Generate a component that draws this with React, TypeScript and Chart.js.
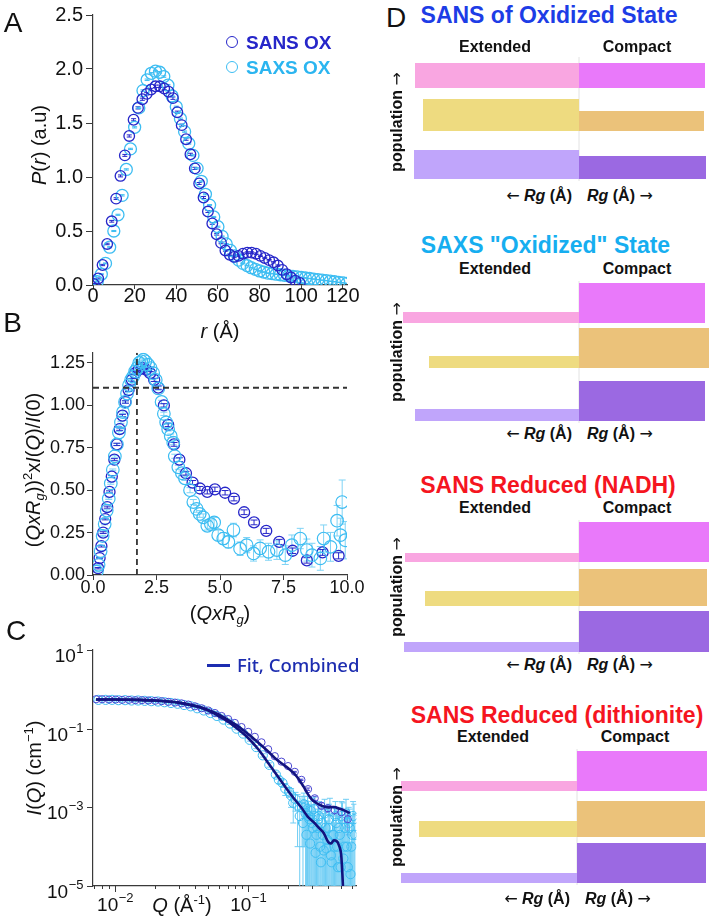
import React, { useEffect, useRef } from "react";
import { Chart, registerables } from "chart.js";
Chart.register(...registerables);

const FONT = '"Liberation Sans", Arial, Helvetica, sans-serif';
const ARROW_FONT = '"DejaVu Sans", sans-serif';
const AXIS = "#3a3a3a";
const SANS_BLUE = "#2626c9";
const SAXS_BLUE = "#3dbdf2";
const C_SANS = "#4a46d2";
const FIT_NAVY = "#13137e";

// ---------------- Panel A : P(r) ----------------
const aXTicks = [0, 20, 40, 60, 80, 100, 120];
const aYTicks = [0, 0.5, 1.0, 1.5, 2.0, 2.5];
const aSansR = [0.4, 2.5, 4.6, 6.8, 9.0, 11.1, 13.2, 15.3, 17.4, 19.5, 21.6, 23.7, 25.8, 27.9, 30.0, 32.1, 34.2, 36.3, 38.4, 40.5, 42.6, 44.7, 46.8, 48.9, 51.0, 53.1, 55.2, 57.3, 59.4, 61.5, 63.6, 65.7, 67.8, 69.9, 72.0, 74.1, 76.2, 78.3, 80.4, 82.5, 84.6, 86.7, 88.8, 90.9, 93.0, 95.1, 97.2, 99.3];
const aSansP = [0.01, 0.06, 0.185, 0.38, 0.59, 0.80, 1.01, 1.20, 1.38, 1.53, 1.64, 1.72, 1.77, 1.81, 1.84, 1.84, 1.82, 1.79, 1.73, 1.60, 1.48, 1.35, 1.21, 1.08, 0.94, 0.81, 0.68, 0.57, 0.47, 0.39, 0.32, 0.28, 0.26, 0.27, 0.29, 0.30, 0.30, 0.29, 0.27, 0.25, 0.23, 0.21, 0.18, 0.14, 0.10, 0.07, 0.04, 0.02];
const aSansErr = [0.004, 0.005, 0.006, 0.007, 0.008, 0.008, 0.009, 0.009, 0.010, 0.010, 0.010, 0.010, 0.011, 0.011, 0.011, 0.011, 0.011, 0.011, 0.011, 0.010, 0.010, 0.010, 0.010, 0.010, 0.009, 0.009, 0.009, 0.008, 0.008, 0.008, 0.007, 0.007, 0.007, 0.007, 0.007, 0.007, 0.007, 0.007, 0.006, 0.006, 0.006, 0.006, 0.006, 0.005, 0.005, 0.005, 0.004, 0.004];
const aSaxsR = [0, 2, 4, 6, 8, 10, 12, 14, 16, 18, 20, 22, 24, 26, 28, 30, 32, 34, 36, 38, 40, 42, 44, 46, 48, 50, 52, 54, 56, 58, 60, 62, 64, 66, 68, 70, 72, 74, 76, 78, 80, 82, 84, 86, 88, 90, 92, 94, 96, 98, 100, 102, 104, 106, 108, 110, 112, 114, 116, 118, 120, 122];
const aSaxsP = [0.0, 0.03, 0.10, 0.20, 0.35, 0.50, 0.65, 0.83, 1.07, 1.26, 1.46, 1.64, 1.80, 1.90, 1.96, 1.98, 1.97, 1.93, 1.85, 1.75, 1.65, 1.54, 1.42, 1.31, 1.20, 1.08, 0.96, 0.84, 0.74, 0.63, 0.54, 0.45, 0.38, 0.32, 0.27, 0.23, 0.20, 0.18, 0.16, 0.145, 0.13, 0.12, 0.11, 0.105, 0.10, 0.095, 0.09, 0.085, 0.08, 0.075, 0.07, 0.065, 0.06, 0.055, 0.05, 0.045, 0.04, 0.035, 0.03, 0.025, 0.02, 0.015];
const aSaxsErr = [0.002, 0.003, 0.004, 0.004, 0.005, 0.005, 0.005, 0.006, 0.006, 0.006, 0.006, 0.007, 0.007, 0.007, 0.007, 0.007, 0.007, 0.007, 0.007, 0.007, 0.006, 0.006, 0.006, 0.006, 0.006, 0.006, 0.005, 0.005, 0.005, 0.005, 0.005, 0.004, 0.004, 0.004, 0.004, 0.004, 0.004, 0.003, 0.003, 0.003, 0.003, 0.003, 0.003, 0.003, 0.003, 0.003, 0.003, 0.003, 0.003, 0.003, 0.003, 0.003, 0.002, 0.002, 0.002, 0.002, 0.002, 0.002, 0.002, 0.002, 0.002, 0.002];

// ---------------- Panel B : dimensionless Kratky ----------------
const bXTicks = [0, 2.5, 5.0, 7.5, 10.0];
const bYTicks = [0, 0.25, 0.5, 0.75, 1.0, 1.25];
const bGuideX = 1.73;
const bGuideY = 1.104;
const bSansX = [0.20, 0.26, 0.33, 0.40, 0.48, 0.56, 0.65, 0.74, 0.84, 0.94, 1.05, 1.16, 1.28, 1.40, 1.53, 1.66, 1.80, 1.94, 2.09, 2.25, 2.41, 2.57, 2.79, 2.96, 3.19, 3.40, 3.66, 3.92, 4.21, 4.50, 4.80, 5.20, 5.55, 5.95, 6.34, 6.82, 7.33, 7.86, 8.42, 9.04, 9.67];
const bSansY = [0.04, 0.10, 0.17, 0.25, 0.33, 0.40, 0.49, 0.58, 0.68, 0.77, 0.86, 0.94, 1.02, 1.09, 1.15, 1.19, 1.21, 1.22, 1.21, 1.19, 1.15, 1.105, 1.0, 0.885, 0.77, 0.68, 0.60, 0.545, 0.51, 0.49, 0.505, 0.485, 0.45, 0.37, 0.31, 0.26, 0.195, 0.143, 0.086, 0.133, 0.113];
const bSansErr = [0.004, 0.004, 0.005, 0.005, 0.005, 0.006, 0.006, 0.006, 0.006, 0.007, 0.007, 0.007, 0.007, 0.008, 0.008, 0.008, 0.008, 0.008, 0.009, 0.009, 0.009, 0.010, 0.010, 0.010, 0.011, 0.011, 0.011, 0.012, 0.012, 0.012, 0.013, 0.013, 0.013, 0.014, 0.014, 0.015, 0.015, 0.016, 0.016, 0.017, 0.018];
const bSaxsX = [0.15, 0.22, 0.30, 0.38, 0.46, 0.54, 0.62, 0.70, 0.78, 0.86, 0.94, 1.02, 1.10, 1.18, 1.26, 1.34, 1.42, 1.50, 1.58, 1.66, 1.74, 1.82, 1.90, 1.98, 2.06, 2.17, 2.27, 2.37, 2.47, 2.57, 2.70, 2.79, 2.88, 2.96, 3.06, 3.16, 3.22, 3.36, 3.50, 3.62, 3.82, 3.95, 4.08, 4.20, 4.34, 4.50, 4.64, 4.77, 4.93, 5.13, 5.33, 5.53, 5.79, 6.05, 6.32, 6.58, 6.91, 7.24, 7.57, 7.83, 8.16, 8.42, 8.62, 8.95, 9.08, 9.35, 9.61, 9.74, 9.81, 9.93];
const bSaxsY = [0.02, 0.06, 0.14, 0.23, 0.30, 0.38, 0.45, 0.54, 0.62, 0.70, 0.77, 0.84, 0.90, 0.96, 1.02, 1.07, 1.12, 1.15, 1.17, 1.20, 1.22, 1.25, 1.26, 1.27, 1.26, 1.24, 1.22, 1.19, 1.15, 1.10, 1.02, 0.95, 0.90, 0.86, 0.82, 0.78, 0.70, 0.635, 0.60, 0.57, 0.50, 0.43, 0.39, 0.36, 0.34, 0.29, 0.30, 0.31, 0.235, 0.215, 0.195, 0.265, 0.155, 0.176, 0.127, 0.157, 0.137, 0.147, 0.117, 0.176, 0.215, 0.147, 0.117, 0.098, 0.215, 0.166, 0.32, 0.235, 0.43, 0.205];
const bSaxsErr = [0.003, 0.003, 0.004, 0.004, 0.004, 0.005, 0.005, 0.005, 0.005, 0.006, 0.006, 0.006, 0.006, 0.007, 0.007, 0.007, 0.007, 0.007, 0.008, 0.008, 0.008, 0.008, 0.008, 0.008, 0.009, 0.009, 0.009, 0.009, 0.010, 0.010, 0.010, 0.010, 0.011, 0.011, 0.011, 0.012, 0.012, 0.012, 0.013, 0.013, 0.015, 0.015, 0.02, 0.02, 0.02, 0.025, 0.025, 0.03, 0.03, 0.035, 0.035, 0.04, 0.04, 0.045, 0.045, 0.05, 0.05, 0.055, 0.055, 0.06, 0.06, 0.065, 0.07, 0.07, 0.08, 0.085, 0.09, 0.1, 0.13, 0.11];

// ---------------- Panel C : I(Q) log-log ----------------
const cXMajor = [0.01, 0.1];
const cXMinor = [0.007, 0.008, 0.009, 0.02, 0.03, 0.04, 0.05, 0.06, 0.07, 0.08, 0.09, 0.2, 0.3, 0.4, 0.5, 0.6];
const cYMajor = [1e-5, 1e-3, 1e-1, 10];
const cSansQ = [0.0072, 0.0080, 0.0090, 0.0101, 0.0113, 0.0127, 0.0142, 0.0159, 0.0178, 0.0200, 0.0224, 0.0251, 0.0282, 0.0316, 0.0355, 0.0398, 0.0447, 0.0501, 0.0562, 0.0631, 0.0708, 0.0794, 0.0891, 0.1000, 0.1122, 0.1259, 0.1413, 0.1585, 0.1778, 0.1995, 0.2239, 0.2512, 0.2818, 0.3162, 0.3548, 0.3981, 0.4467, 0.5012, 0.56];
const cSansI = [0.56, 0.56, 0.55, 0.55, 0.54, 0.54, 0.53, 0.53, 0.52, 0.51, 0.50, 0.48, 0.46, 0.44, 0.41, 0.37, 0.33, 0.29, 0.25, 0.21, 0.175, 0.14, 0.11, 0.083, 0.062, 0.045, 0.030, 0.020, 0.0145, 0.0112, 0.0080, 0.0050, 0.0029, 0.0017, 0.0011, 0.00095, 0.00085, 0.00075, 0.0005];
const cSansErr = [0, 0, 0, 0, 0, 0, 0, 0, 0, 0, 0, 0, 0, 0, 0, 0, 0, 0, 0, 0, 0, 0, 0, 0, 0, 0, 0, 0, 0, 0, 0.0002, 0.0002, 0.0002, 0.0002, 0.0002, 0.0002, 0.0002, 0.0002, 0.0003];
const cSaxsQ = [0.0075, 0.0085, 0.0095, 0.0106, 0.0119, 0.0133, 0.0149, 0.0167, 0.0187, 0.0210, 0.0235, 0.0263, 0.0295, 0.0330, 0.0370, 0.0414, 0.0464, 0.0520, 0.0582, 0.0652, 0.0730, 0.0818, 0.0916, 0.1026, 0.1149, 0.1287, 0.1441, 0.1614, 0.1808, 0.2025, 0.2268, 0.2540, 0.262, 0.270, 0.279, 0.288, 0.297, 0.306, 0.316, 0.326, 0.336, 0.347, 0.358, 0.369, 0.381, 0.393, 0.405, 0.418, 0.431, 0.445, 0.459, 0.473, 0.488, 0.503, 0.519, 0.535, 0.552, 0.569, 0.587, 0.605, 0.624];
const cSaxsI = [0.54, 0.54, 0.54, 0.53, 0.53, 0.52, 0.52, 0.51, 0.50, 0.49, 0.47, 0.45, 0.43, 0.40, 0.37, 0.33, 0.29, 0.25, 0.21, 0.17, 0.135, 0.10, 0.075, 0.052, 0.034, 0.021, 0.012, 0.0068, 0.0042, 0.0025, 0.0016, 0.0010, 0.0012, 0.0007, 0.0009, 0.0005, 0.0008, 0.0003, 0.0006, 0.0002, 0.0005, 0.0001, 0.0004, 0.00008, 0.0003, 0.00015, 0.0005, 0.00006, 0.0002, 0.0001, 0.0004, 0.00003, 0.0002, 0.0006, 0.00005, 0.0003, 0.0001, 0.0004, 0.00002, 0.0002, 0.0005];
const cSaxsErr = [0.02, 0.02, 0.02, 0.02, 0.02, 0.02, 0.02, 0.02, 0.02, 0.02, 0.02, 0.02, 0.02, 0.02, 0.02, 0.015, 0.012, 0.01, 0.009, 0.008, 0.007, 0.006, 0.005, 0.004, 0.003, 0.002, 0.0015, 0.001, 0.0008, 0.0007, 0.0008, 0.0009, 0.0011, 0.0008, 0.0010, 0.0007, 0.0009, 0.0005, 0.0008, 0.0004, 0.0007, 0.0003, 0.0006, 0.0002, 0.0005, 0.0003, 0.0007, 0.0002, 0.0004, 0.0003, 0.0006, 0.0001, 0.0004, 0.0008, 0.0002, 0.0005, 0.0003, 0.0006, 0.0001, 0.0004, 0.0007];
// second SAXS frame (noisy high-Q points)
const cSaxs2Q = [0.1700, 0.1900, 0.2100, 0.2180, 0.2350, 0.2440, 0.258, 0.266, 0.274, 0.283, 0.292, 0.301, 0.311, 0.321, 0.331, 0.341, 0.352, 0.363, 0.375, 0.387, 0.399, 0.411, 0.424, 0.438, 0.452, 0.466, 0.480, 0.495, 0.511, 0.527, 0.543, 0.560, 0.578, 0.596, 0.614, 0.633];
const cSaxs2I = [0.0050, 0.0030, 0.0020, 0.0013, 0.0011, 0.0006, 0.0004, 0.0010, 0.0002, 0.0006, 0.00012, 0.0004, 0.0009, 0.00007, 0.0003, 0.0006, 0.00004, 0.0002, 0.0007, 0.00009, 0.0003, 0.0008, 0.00004, 0.0002, 0.0006, 0.0001, 0.0003, 0.00003, 0.0005, 0.0001, 0.0007, 0.00003, 0.0003, 0.0001, 0.0006, 0.0002];
const cSaxs2Err = [0.001, 0.001, 0.001, 0.0009, 0.0010, 0.0008, 0.0006, 0.0009, 0.0005, 0.0008, 0.0004, 0.0007, 0.0009, 0.0003, 0.0006, 0.0008, 0.0002, 0.0005, 0.0009, 0.0003, 0.0006, 0.0009, 0.0002, 0.0005, 0.0008, 0.0003, 0.0006, 0.0002, 0.0008, 0.0004, 0.0009, 0.0002, 0.0006, 0.0003, 0.0008, 0.0005];
const fitUpQ = [0.0072, 0.010, 0.015, 0.02, 0.03, 0.04, 0.05, 0.06, 0.07, 0.08, 0.09, 0.10, 0.12, 0.14, 0.16, 0.18, 0.20, 0.22, 0.24, 0.26, 0.28, 0.30, 0.33, 0.36, 0.40, 0.44, 0.48, 0.52, 0.58];
const fitUpI = [0.55, 0.55, 0.54, 0.52, 0.46, 0.38, 0.30, 0.23, 0.17, 0.128, 0.097, 0.073, 0.043, 0.027, 0.0175, 0.0128, 0.0098, 0.0074, 0.0052, 0.0034, 0.0022, 0.0016, 0.00125, 0.00108, 0.00100, 0.00102, 0.00094, 0.00085, 0.00071];
const fitLoQ = [0.0072, 0.010, 0.015, 0.02, 0.03, 0.04, 0.05, 0.06, 0.07, 0.08, 0.09, 0.10, 0.12, 0.14, 0.16, 0.18, 0.20, 0.22, 0.25, 0.28, 0.31, 0.34, 0.37, 0.40, 0.42, 0.44, 0.46, 0.48, 0.50, 0.51, 0.515, 0.52];
const fitLoI = [0.55, 0.55, 0.54, 0.52, 0.46, 0.37, 0.29, 0.21, 0.155, 0.11, 0.08, 0.058, 0.029, 0.014, 0.0075, 0.0043, 0.0026, 0.0017, 0.001, 0.00058, 0.00042, 0.00030, 0.00022, 0.00013, 0.00012, 0.000145, 0.00014, 0.00011, 0.00006, 0.00002, 0.00001, 0.000005];

// ---------------- Panel D : population diagrams ----------------
// rows top->bottom: pink, yellow, purple. spans measured from the Extended|Compact divide.
const dTitles = ["SANS of Oxidized State", 'SAXS "Oxidized" State', "SANS Reduced (NADH)", "SANS Reduced (dithionite)"];
const dTitleColors = ["#1d3de6", "#16aef0", "#f5151f", "#f5151f"];
const extColors = ["#f9a6e1", "#eedb80", "#c0a5fb"];
const cmpColors = ["#e979fa", "#ebc27a", "#9b69e2"];
const d1ExtSpan = [164, 156, 165], d1CmpSpan = [126, 125, 127], d1Base = [93, 50, 2], d1ExtPop = [25, 32, 29], d1CmpPop = [25, 20, 23];
const d2ExtSpan = [176, 150, 164], d2CmpSpan = [126, 130, 126], d2Base = [100, 55, 2], d2ExtPop = [11, 12, 12], d2CmpPop = [40, 40, 40];
const d3ExtSpan = [174, 154, 175], d3CmpSpan = [130, 128, 130], d3Base = [92, 48, 2], d3ExtPop = [9, 15, 10], d3CmpPop = [40, 37, 41];
const d4ExtSpan = [176, 158, 176], d4CmpSpan = [130, 128, 129], d4Base = [94, 48, 2], d4ExtPop = [10, 16, 10], d4CmpPop = [40, 36, 40];

const errorBars = {
  id: "errorBars",
  beforeDatasetsDraw(chart: any) {
    const { ctx, chartArea: a } = chart;
    const xs = chart.scales.x, ys = chart.scales.y;
    ctx.save();
    ctx.beginPath();
    ctx.rect(a.left, a.top, a.right - a.left, a.bottom - a.top);
    ctx.clip();
    chart.data.datasets.forEach((ds: any) => {
      if (!ds.errors) return;
      ctx.strokeStyle = ds.errorColor;
      ctx.lineWidth = ds.errorWidth || 1;
      const cap = ds.capHalf || 0;
      ds.data.forEach((p: any, i: number) => {
        const e = ds.errors[i];
        if (!e) return;
        const x = xs.getPixelForValue(p.x);
        const yt = ys.getPixelForValue(p.y + e);
        const lo = p.y - e;
        const logLow = ys.type === "logarithmic" && lo <= 0;
        const yb = logLow ? a.bottom + 10 : ys.getPixelForValue(lo);
        ctx.beginPath();
        ctx.moveTo(x, yt);
        ctx.lineTo(x, yb);
        if (cap) {
          ctx.moveTo(x - cap, yt);
          ctx.lineTo(x + cap, yt);
          if (!logLow) {
            ctx.moveTo(x - cap, yb);
            ctx.lineTo(x + cap, yb);
          }
        }
        ctx.stroke();
      });
    });
    ctx.restore();
  },
};

const cLogTicks = {
  id: "cLogTicks",
  afterDraw(chart: any) {
    const { ctx, chartArea: a } = chart;
    const xs = chart.scales.x, ys = chart.scales.y;
    ctx.save();
    ctx.strokeStyle = AXIS;
    ctx.lineWidth = 1;
    ctx.beginPath();
    cXMinor.forEach((v) => { const p = Math.round(xs.getPixelForValue(v)) + 0.5; ctx.moveTo(p, a.bottom); ctx.lineTo(p, a.bottom + 3); });
    cXMajor.forEach((v) => { const p = Math.round(xs.getPixelForValue(v)) + 0.5; ctx.moveTo(p, a.bottom); ctx.lineTo(p, a.bottom + 6); });
    cYMajor.forEach((v) => { const p = Math.round(ys.getPixelForValue(v)) + 0.5; ctx.moveTo(a.left, p); ctx.lineTo(a.left - 6, p); });
    ctx.stroke();
    ctx.fillStyle = "#111";
    ctx.textBaseline = "alphabetic";
    ctx.textAlign = "left";
    const big = '19px "Liberation Sans", Arial, sans-serif';
    const small = '13px "Liberation Sans", Arial, sans-serif';
    const expOf = (v: number) => { const e = Math.round(Math.log10(v)); return e < 0 ? "\u2212" + -e : String(e); };
    const widths = (v: number) => { ctx.font = big; const w1 = ctx.measureText("10").width; ctx.font = small; const w2 = ctx.measureText(expOf(v)).width; return [w1, w2]; };
    const put = (v: number, x0: number, base: number) => {
      const [w1] = widths(v);
      ctx.font = big; ctx.fillText("10", x0, base);
      ctx.font = small; ctx.fillText(expOf(v), x0 + w1 + 0.5, base - 9);
    };
    cXMajor.forEach((v) => { const p = xs.getPixelForValue(v); const [w1, w2] = widths(v); put(v, p - (w1 + w2) / 2, a.bottom + 25); });
    cYMajor.forEach((v) => { const p = ys.getPixelForValue(v); const [w1, w2] = widths(v); put(v, a.left - 10 - (w1 + w2), p + 12); });
    ctx.restore();
  },
};

const pts = (xs: number[], ys: number[]) => xs.map((x, i) => ({ x, y: ys[i] }));

function linAxis(min: number, max: number, ticks: number[], fmt: (v: number) => string, fixed: number, fontSize: number, tickLen: number, pad: number) {
  return {
    type: "linear",
    min, max,
    afterBuildTicks: (s: any) => { s.ticks = ticks.map((v) => ({ value: v })); },
    afterFit: (s: any) => { if (s.isHorizontal()) s.height = fixed; else s.width = fixed; },
    grid: { display: true, drawOnChartArea: false, drawTicks: true, tickLength: tickLen, color: AXIS, lineWidth: 1 },
    border: { display: true, color: AXIS, width: 1.2 },
    ticks: { autoSkip: false, maxRotation: 0, padding: pad, color: "#111", font: { family: FONT, size: fontSize }, callback: (v: any) => fmt(Number(v)) },
  };
}

const baseOpts = (padding: any) => ({
  responsive: false,
  animation: false,
  events: [],
  layout: { padding },
  plugins: { legend: { display: false }, tooltip: { enabled: false } },
});

function configA() {
  return {
    type: "scatter",
    data: {
      datasets: [
        { data: pts(aSansR, aSansP), borderColor: SANS_BLUE, backgroundColor: "rgba(0,0,0,0)", pointRadius: 5.3, pointBorderWidth: 1.3, errors: aSansErr, errorColor: SANS_BLUE, capHalf: 2.5 },
        { data: pts(aSaxsR, aSaxsP), borderColor: SAXS_BLUE, backgroundColor: "rgba(0,0,0,0)", pointRadius: 6, pointBorderWidth: 1.3, errors: aSaxsErr, errorColor: SAXS_BLUE, capHalf: 2.5 },
      ],
    },
    options: {
      ...baseOpts({ top: 15, right: 18, left: 0, bottom: 0 }),
      scales: {
        x: linAxis(0, 122, aXTicks, (v) => String(v), 27, 20, 4, -5),
        y: linAxis(0, 2.5, aYTicks, (v) => v.toFixed(1), 93, 20, 7, 3),
      },
    },
    plugins: [errorBars],
  };
}

function configB() {
  return {
    type: "scatter",
    data: {
      datasets: [
        { data: [{ x: 0, y: bGuideY }, { x: 10, y: bGuideY }], showLine: true, borderColor: "#333", borderWidth: 1.8, borderDash: [6, 4], pointRadius: 0 },
        { data: [{ x: bGuideX, y: 0 }, { x: bGuideX, y: 1.31 }], showLine: true, borderColor: "#333", borderWidth: 1.8, borderDash: [6, 4], pointRadius: 0 },
        { data: pts(bSaxsX, bSaxsY), borderColor: SAXS_BLUE, backgroundColor: "rgba(0,0,0,0)", pointRadius: 6.3, pointBorderWidth: 1.2, errors: bSaxsErr, errorColor: "#7fd3f5", capHalf: 3.5 },
        { data: pts(bSansX, bSansY), borderColor: SANS_BLUE, backgroundColor: "rgba(0,0,0,0)", pointRadius: 5.5, pointBorderWidth: 1.3, errors: bSansErr, errorColor: SANS_BLUE, capHalf: 3.5 },
      ],
    },
    options: {
      ...baseOpts({ top: 12, right: 18, left: 0, bottom: 0 }),
      scales: {
        x: linAxis(0, 10, bXTicks, (v) => v.toFixed(1), 37, 18, 5, -3),
        y: linAxis(0, 1.31, bYTicks, (v) => v.toFixed(2), 93, 18, 6, 2),
      },
    },
    plugins: [errorBars],
  };
}

function configC() {
  const logAxis = (min: number, max: number, fixed: number) => ({
    type: "logarithmic",
    min, max,
    afterFit: (s: any) => { if (s.isHorizontal()) s.height = fixed; else s.width = fixed; },
    grid: { display: false },
    border: { display: true, color: AXIS, width: 1.2 },
    ticks: { display: false },
  });
  const saxsStyle = { borderColor: SAXS_BLUE, backgroundColor: "rgba(0,0,0,0)", pointRadius: 4.6, pointBorderWidth: 1, errorColor: "#6fcdf4", capHalf: 3 };
  return {
    type: "scatter",
    data: {
      datasets: [
        { data: pts(fitUpQ, fitUpI), showLine: true, borderColor: FIT_NAVY, borderWidth: 2.6, pointRadius: 0, cubicInterpolationMode: "monotone" },
        { data: pts(fitLoQ, fitLoI), showLine: true, borderColor: FIT_NAVY, borderWidth: 2.6, pointRadius: 0, cubicInterpolationMode: "monotone" },
        { data: pts(cSansQ, cSansI), borderColor: C_SANS, backgroundColor: "rgba(0,0,0,0)", pointRadius: 3.6, pointBorderWidth: 1, errors: cSansErr, errorColor: C_SANS, capHalf: 2 },
        { data: pts(cSaxsQ, cSaxsI), errors: cSaxsErr, ...saxsStyle },
        { data: pts(cSaxs2Q, cSaxs2I), errors: cSaxs2Err, ...saxsStyle },
      ],
    },
    options: {
      ...baseOpts({ top: 12, right: 13.6, left: 0, bottom: 0 }),
      scales: { x: logAxis(0.00683, 0.65, 35), y: logAxis(1e-5, 10, 93) },
    },
    plugins: [errorBars, cLogTicks],
  };
}

function configD(ext: number[], cmp: number[], base: number[], extPop: number[], cmpPop: number[], h: number) {
  const datasets: any[] = [];
  base.forEach((b, i) => {
    datasets.push({ data: [{ x: -ext[i], y: b + extPop[i] }, { x: 0, y: b + extPop[i] }], showLine: true, fill: { value: b }, backgroundColor: extColors[i], borderColor: "rgba(0,0,0,0)", borderWidth: 0.1, pointRadius: 0 });
    datasets.push({ data: [{ x: 0, y: b + cmpPop[i] }, { x: cmp[i], y: b + cmpPop[i] }], showLine: true, fill: { value: b }, backgroundColor: cmpColors[i], borderColor: "rgba(0,0,0,0)", borderWidth: 0.1, pointRadius: 0 });
  });
  datasets.push({ data: [{ x: 0, y: 0 }, { x: 0, y: h }], showLine: true, borderColor: "#e2e2e2", borderWidth: 1, pointRadius: 0, fill: false });
  return {
    type: "scatter",
    data: { datasets },
    options: {
      ...baseOpts(0),
      scales: {
        x: { type: "linear", display: false, min: -184, max: 134 },
        y: { type: "linear", display: false, min: 0, max: h },
      },
    },
  };
}

function ChartCanvas({ left, top, width, height, make }: any) {
  const ref = useRef<HTMLCanvasElement | null>(null);
  useEffect(() => {
    const chart = new Chart(ref.current as any, make());
    return () => chart.destroy();
  }, []);
  return <canvas ref={ref} width={width} height={height} style={{ position: "absolute", left, top, width, height }} />;
}

function Txt({ x, y, size, children, rot = 0, anchor = "c", weight = 400, color = "#111", family = FONT }: any) {
  const tx = anchor === "l" ? "0" : anchor === "r" ? "-100%" : "-50%";
  return (
    <div style={{ position: "absolute", left: x, top: y, transform: `translate(${tx},-50%) rotate(${rot}deg)`, fontSize: size, lineHeight: 1, whiteSpace: "nowrap", fontWeight: weight, color, fontFamily: family }}>
      {children}
    </div>
  );
}
const Sup = ({ c }: any) => <span style={{ fontSize: "0.65em", verticalAlign: "0.6em", lineHeight: 0 }}>{c}</span>;
const Sub = ({ c }: any) => <span style={{ fontSize: "0.65em", verticalAlign: "-0.3em", lineHeight: 0 }}>{c}</span>;
const Arr = ({ c }: any) => <span style={{ fontFamily: ARROW_FONT, fontWeight: 400 }}>{c}</span>;

const dLayout = [
  { top: 57, h: 124, shift: 0, yTitle: 15, yEC: 47, yRg: 196, yPop: 122, ext: d1ExtSpan, cmp: d1CmpSpan, base: d1Base, ep: d1ExtPop, cp: d1CmpPop },
  { top: 281, h: 142, shift: 0, yTitle: 245, yEC: 269, yRg: 434, yPop: 352, ext: d2ExtSpan, cmp: d2CmpSpan, base: d2Base, ep: d2ExtPop, cp: d2CmpPop },
  { top: 520, h: 134, shift: 0, yTitle: 485, yEC: 508, yRg: 665, yPop: 587, ext: d3ExtSpan, cmp: d3CmpSpan, base: d3Base, ep: d3ExtPop, cp: d3CmpPop },
  { top: 749, h: 136, shift: -2, yTitle: 715, yEC: 737, yRg: 899, yPop: 817, ext: d4ExtSpan, cmp: d4CmpSpan, base: d4Base, ep: d4ExtPop, cp: d4CmpPop },
];
const dTitleX = [549, 545.5, 548, 557];

export default function App() {
  return (
    <div style={{ position: "absolute", left: 0, top: 0, width: 713, height: 921, background: "#fff", overflow: "hidden", fontFamily: FONT }}>
      <ChartCanvas left={0} top={0} width={365} height={312} make={configA} />
      <ChartCanvas left={0} top={340} width={365} height={272} make={configB} />
      <ChartCanvas left={0} top={638} width={370} height={283} make={configC} />
      {dLayout.map((d, i) => (
        <ChartCanvas key={i} left={395 + d.shift} top={d.top} width={318} height={d.h} make={() => configD(d.ext, d.cmp, d.base, d.ep, d.cp, d.h)} />
      ))}

      {/* panel letters */}
      <Txt x={13} y={23} size={28}>A</Txt>
      <Txt x={12.5} y={323} size={28}>B</Txt>
      <Txt x={16} y={631} size={28}>C</Txt>
      <Txt x={396} y={18} size={28}>D</Txt>

      {/* panel A legend */}
      <div style={{ position: "absolute", left: 226, top: 36, width: 12, height: 12, borderRadius: "50%", border: `1.6px solid ${SANS_BLUE}`, boxSizing: "border-box" }} />
      <div style={{ position: "absolute", left: 226, top: 61, width: 12, height: 12, borderRadius: "50%", border: `1.6px solid ${SAXS_BLUE}`, boxSizing: "border-box" }} />
      <Txt x={246} y={42} size={19} anchor="l" weight={700} color={SANS_BLUE}>SANS OX</Txt>
      <Txt x={246} y={67} size={19} anchor="l" weight={700} color="#2bb5f0">SAXS OX</Txt>

      {/* axis titles */}
      <Txt x={39} y={145} size={20} rot={-90}><i>P</i>(<i>r</i>) (a.u)</Txt>
      <Txt x={220} y={331} size={20}><i>r</i> (Å)</Txt>
      <Txt x={33} y={470} size={20} rot={-90}>(<i>QxR</i><Sub c={<i>g</i>} />))<Sup c="2" />x<i>I</i>(<i>Q</i>)/<i>I</i>(0)</Txt>
      <Txt x={220} y={613} size={20}>(<i>QxR</i><Sub c={<i>g</i>} />)</Txt>
      <Txt x={34} y={768} size={20} rot={-90}><i>I</i>(<i>Q</i>) (cm<Sup c={"\u22121"} />)</Txt>
      <Txt x={182} y={905} size={20}><i>Q</i> (Å<Sup c="-1" />)</Txt>

      {/* panel C legend */}
      <div style={{ position: "absolute", left: 207, top: 664, width: 23, height: 2.6, background: "#1d2db0" }} />
      <Txt x={237} y={665} size={18.5} anchor="l" weight={500} color="#1d2db0" family='"Noto Sans", "Open Sans", sans-serif'>Fit, Combined</Txt>

      {/* panel D texts */}
      {dLayout.map((d, i) => (
        <React.Fragment key={"t" + i}>
          <Txt x={dTitleX[i]} y={d.yTitle} size={23} weight={700} color={dTitleColors[i]}>{dTitles[i]}</Txt>
          <Txt x={495 + d.shift} y={d.yEC} size={16} weight={700}>Extended</Txt>
          <Txt x={637 + d.shift} y={d.yEC} size={16} weight={700}>Compact</Txt>
          <Txt x={572 + d.shift} y={d.yRg} size={16} weight={700} anchor="r"><Arr c="←" /> <i>Rg</i> (Å)</Txt>
          <Txt x={587 + d.shift} y={d.yRg} size={16} weight={700} anchor="l"><i>Rg</i> (Å) <Arr c="→" /></Txt>
          <Txt x={397} y={d.yPop} size={16} weight={700} rot={-90}>population <Arr c="→" /></Txt>
        </React.Fragment>
      ))}
    </div>
  );
}
